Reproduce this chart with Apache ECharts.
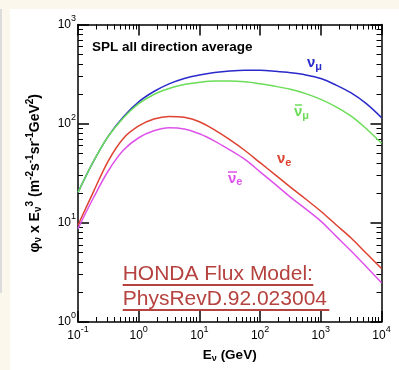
<!DOCTYPE html>
<html>
<head>
<meta charset="utf-8">
<script src="https://cdn.jsdelivr.net/npm/echarts@6/dist/echarts.min.js"></script>
<style>
  html, body { margin: 0; padding: 0; background: #fcf7ec; }
  #wrap { position: relative; width: 399px; height: 370px; overflow: hidden; }
  #edge { position: absolute; left: 0; top: 9px; width: 2px; height: 284px; background: #dcdcdc; }
  #panel { position: absolute; left: 10px; top: 9px; right: 0; bottom: 0; background: #fff; }
  #chart { position: absolute; left: 0; top: 0; width: 399px; height: 370px; }
</style>
</head>
<body>
<div id="wrap"><div id="edge"></div><div id="panel"></div><div id="chart"></div></div>
<script>
// neutrino energy (GeV) and E^3-weighted flux
const energy = [0.1, 0.178, 0.316, 0.562, 1, 1.78, 3.16, 5.62, 10, 17.8, 31.6, 56.2, 100, 178, 316, 562, 1000, 1780, 3160, 5620, 10000];
const numu    = [20.3, 41.2, 75, 117.5, 166, 211, 252, 286, 310, 328, 340, 346, 345, 337, 326, 310, 285, 245, 204, 159, 115];
const numubar = [20.3, 41.2, 74.6, 115, 159, 197, 226, 248, 261, 269, 269, 264, 252, 238, 222, 201, 176, 148, 119, 89, 63.5];
const nue     = [9.5, 20.3, 42.2, 71.3, 94.9, 111.5, 118.4, 115.8, 104.7, 86.5, 68.9, 53.6, 40.4, 30.5, 22.9, 17.4, 13.1, 9.57, 7.03, 4.93, 3.46];
const nuebar  = [8.75, 17.7, 33.5, 54.2, 72.1, 84.7, 91.1, 88.5, 79.1, 66.8, 54.3, 43.6, 32.7, 24.4, 18.2, 13.8, 10.4, 7.34, 5.2, 3.61, 2.49];

const xRange = [0.1, 10000];
const yRange = [1, 1000];
const minorSteps = [2, 3, 4, 5, 6, 7, 8, 9];

const FONT = 'Liberation Sans, Arial, Helvetica, sans-serif';
const colors = { numu: '#2a2acb', numubar: '#6cdd58', nue: '#de4231', nuebar: '#de52ea' };

// minor tick positions in log10 space (2..9 in every decade)
function minorTicks(lo, hi) {
  const out = [];
  for (let d = lo; d < hi; d++) minorSteps.forEach(k => out.push(d + Math.log10(k)));
  return out;
}

const powRich = {
  b: { fontSize: 12, lineHeight: 24, fontFamily: FONT, color: '#000' },
  s: { fontSize: 9, lineHeight: 9, verticalAlign: 'top', padding: [1.5, 0, 0, 0], fontFamily: FONT, color: '#000' }
};
const powLabel = v => '{b|10}{s|' + Math.round(Math.log10(v)) + '}';

function majorAxis(range, pos, labels, extra) {
  return Object.assign({
    type: 'log', logBase: 10, min: range[0], max: range[1], position: pos,
    splitNumber: Math.round(Math.log10(range[1] / range[0])),
    axisLine: { show: true, onZero: false, lineStyle: { color: '#000', width: 1.5 } },
    axisTick: { show: true, inside: true, length: 11, lineStyle: { color: '#000', width: 1.5 } },
    axisLabel: labels ? { show: true, formatter: powLabel, rich: powRich, margin: 2 } : { show: false },
    splitLine: { show: false }, minorTick: { show: false }
  }, extra || {});
}
function minorAxis(range, pos) {
  const lo = Math.round(Math.log10(range[0])), hi = Math.round(Math.log10(range[1]));
  return {
    type: 'value', min: lo, max: hi, position: pos,
    axisLine: { show: false, onZero: false },
    axisTick: { show: true, inside: true, length: 5, customValues: minorTicks(lo, hi), lineStyle: { color: '#000', width: 1 } },
    axisLabel: { show: false }, splitLine: { show: false }
  };
}

function titleRich(size) {
  const small = Math.round(size * 0.7);
  return {
    n: { fontSize: size, fontWeight: 'bold', lineHeight: 20, fontFamily: FONT, color: '#000' },
    d: { fontSize: small, fontWeight: 'bold', lineHeight: small, verticalAlign: 'bottom', padding: [0, 0, 2, 0], fontFamily: FONT, color: '#000' },
    u: { fontSize: small, fontWeight: 'bold', lineHeight: small, verticalAlign: 'top', padding: [0.5, 0, 0, 0], fontFamily: FONT, color: '#000' }
  };
}

function curveLabel(x, y, main, sub, color) {
  return {
    type: 'text', x: x, y: y, silent: true,
    style: {
      text: '{a|' + main + '}{b|' + sub + '}', align: 'left', verticalAlign: 'middle',
      rich: {
        a: { fontSize: 15, fontWeight: 'bold', lineHeight: 18, fontFamily: FONT, fill: color },
        b: { fontSize: 11, fontWeight: 'bold', lineHeight: 11, verticalAlign: 'bottom', fontFamily: FONT, fill: color }
      }
    }
  };
}
function bar(x1, x2, y, color) {
  return { type: 'line', silent: true, shape: { x1: x1, y1: y, x2: x2, y2: y }, style: { stroke: color, lineWidth: 1.5 } };
}

const mk = arr => energy.map((e, i) => [e, arr[i]]);
function curve(name, arr, color) {
  return {
    name: name, type: 'line', data: mk(arr), xAxisIndex: 0, yAxisIndex: 0,
    showSymbol: false, symbol: 'none', smooth: 0.35,
    lineStyle: { color: color, width: 1.5 }, z: 3
  };
}

const chart = echarts.init(document.getElementById('chart'));
chart.setOption({
  animation: false,
  backgroundColor: 'transparent',
  grid: { left: 78, top: 24.5, width: 303.5, height: 302.2 },
  xAxis: [
    majorAxis(xRange, 'bottom', true, {
      name: '{n|E}{d|ν}{n| (GeV)}', nameLocation: 'middle', nameGap: 23,
      nameTextStyle: { rich: titleRich(13.5) }
    }),
    majorAxis(xRange, 'top', false),
    minorAxis(xRange, 'bottom'),
    minorAxis(xRange, 'top')
  ],
  yAxis: [
    majorAxis(yRange, 'left', true, {
      name: '{n|φ}{d|ν}{n| x E}{d|ν}{u|3}{n| (m}{u|-2}{n|s}{u|-1}{n|sr}{u|-1}{n|GeV}{u|2}{n|)}',
      nameLocation: 'middle', nameGap: 33,
      nameTextStyle: { rich: titleRich(14) }
    }),
    majorAxis(yRange, 'right', false),
    minorAxis(yRange, 'left'),
    minorAxis(yRange, 'right')
  ],
  series: [
    curve('numu', numu, colors.numu),
    curve('numubar', numubar, colors.numubar),
    curve('nue', nue, colors.nue),
    curve('nuebar', nuebar, colors.nuebar)
  ],
  graphic: [
    { type: 'text', x: 92, y: 47, silent: true,
      style: { text: 'SPL all direction average', font: 'bold 13.5px ' + FONT, fill: '#000', align: 'left', verticalAlign: 'middle' } },
    curveLabel(307, 63, 'ν', 'μ', colors.numu),
    curveLabel(294, 112, 'ν', 'μ', colors.numubar),
    bar(295, 302, 105, colors.numubar),
    curveLabel(277, 159, 'ν', 'e', colors.nue),
    curveLabel(228, 178.5, 'ν', 'e', colors.nuebar),
    bar(228, 237, 172, colors.nuebar),
    { type: 'text', x: 122.7, y: 274.5, silent: true,
      style: { text: 'HONDA Flux Model:', font: '21px ' + FONT, fill: '#b5423e', align: 'left', verticalAlign: 'middle' } },
    { type: 'text', x: 122.7, y: 299.5, silent: true,
      style: { text: 'PhysRevD.92.023004', font: '21px ' + FONT, fill: '#b5423e', align: 'left', verticalAlign: 'middle' } },
    { type: 'rect', silent: true, shape: { x: 122.7, y: 284, width: 190.6, height: 2 }, style: { fill: '#b5423e' } },
    { type: 'rect', silent: true, shape: { x: 122.7, y: 309, width: 206.6, height: 2 }, style: { fill: '#b5423e' } }
  ]
});
</script>
</body>
</html>
